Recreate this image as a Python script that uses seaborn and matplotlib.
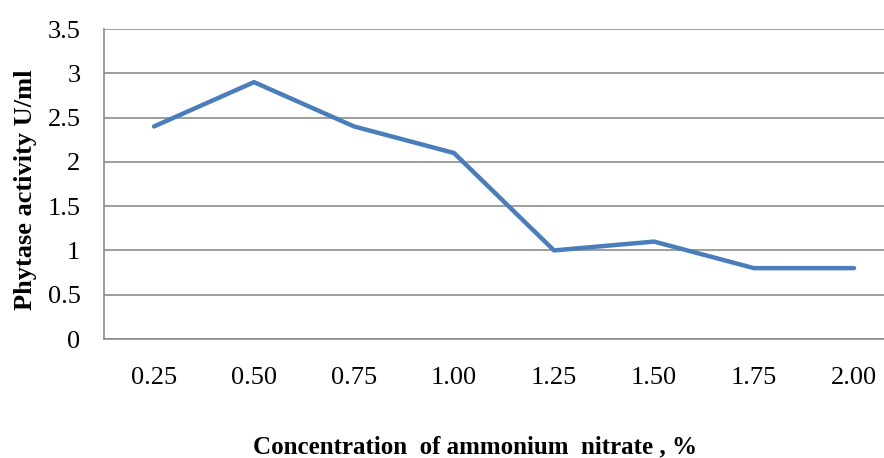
import matplotlib
matplotlib.use("Agg")
import matplotlib.pyplot as plt
import seaborn as sns
import pandas as pd

categories = ["0.25", "0.50", "0.75", "1.00", "1.25", "1.50", "1.75", "2.00"]
activity = [2.4, 2.9, 2.4, 2.1, 1.0, 1.1, 0.8, 0.8]
y_ticks = [0, 0.5, 1, 1.5, 2, 2.5, 3, 3.5]
y_tick_labels = ["0", "0.5", "1", "1.5", "2", "2.5", "3", "3.5"]

df = pd.DataFrame({"conc": categories, "act": activity, "pos": range(len(categories))})

sns.set_theme(style="white")
plt.rcParams["font.family"] = ["Liberation Serif", "DejaVu Serif"]
plt.rcParams["text.color"] = "black"
plt.rcParams["axes.labelcolor"] = "black"
plt.rcParams["xtick.color"] = "black"
plt.rcParams["ytick.color"] = "black"

fig = plt.figure(figsize=(8.84, 4.58), dpi=100)
ax = fig.add_axes([104 / 884, (458 - 339) / 458, 1 - 104 / 884, (339 - 29) / 458])

sns.lineplot(data=df, x="pos", y="act", ax=ax, color="#4A7EBB", linewidth=3.2)

ax.set_xlim(-0.5, 7.3)
ax.set_ylim(0, 3.5)
ax.set_yticks(y_ticks)
ax.set_yticklabels(y_tick_labels, fontsize=19)
ax.set_xticks(range(len(categories)))
ax.set_xticklabels(categories, fontsize=19)
ax.tick_params(axis="x", length=0, pad=20)
ax.tick_params(axis="y", length=0, pad=17)
ax.grid(axis="y", color="#8c8c8c", linewidth=1.2)
ax.set_axisbelow(True)
for s in ["top", "right"]:
    ax.spines[s].set_visible(False)
for s in ["left", "bottom"]:
    ax.spines[s].set_color("#8c8c8c")
    ax.spines[s].set_linewidth(1.2)

ax.set_xlabel("Concentration  of ammonium  nitrate , %", fontsize=18, fontweight="bold")
ax.set_ylabel("Phytase activity U/ml", fontsize=19, fontweight="bold")
ax.xaxis.set_label_coords(0.4756, -0.348)
ax.xaxis.label.set_verticalalignment("center")
ax.yaxis.set_label_coords(-0.101, 0.48)
ax.yaxis.label.set_verticalalignment("center")

fig.savefig("out.png", dpi=100)
